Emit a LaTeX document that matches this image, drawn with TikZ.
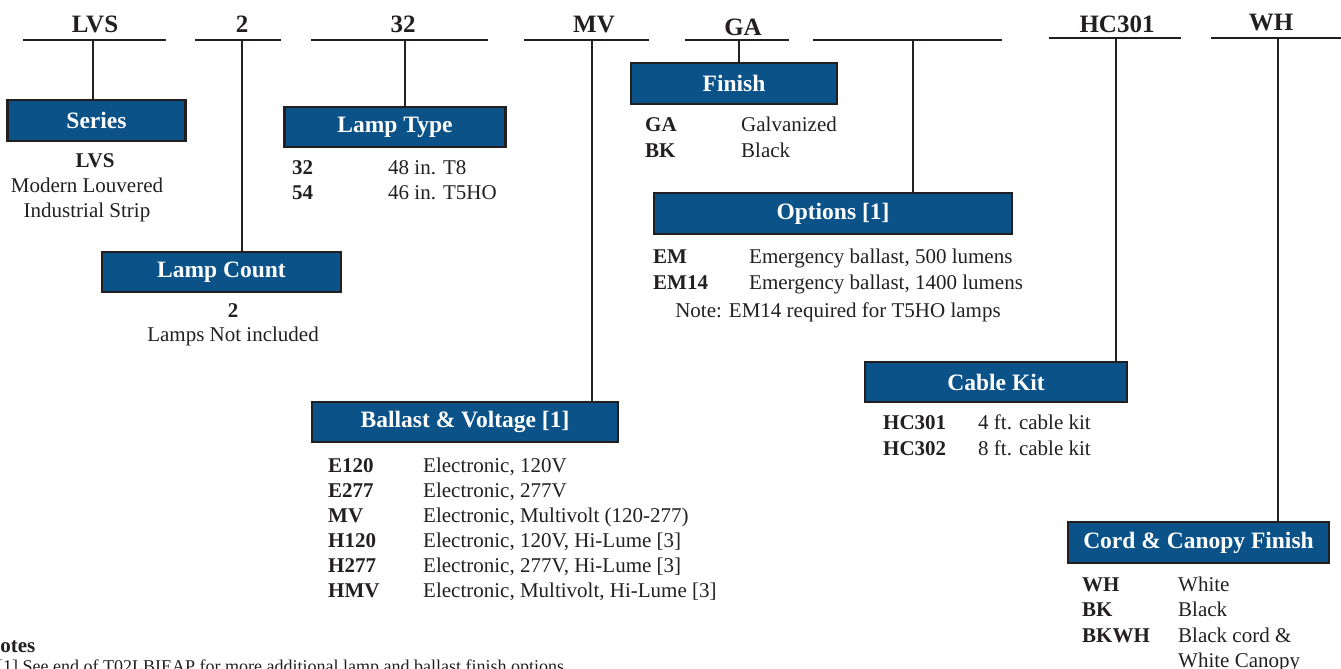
\documentclass[tikz,border=0pt]{standalone}
\usepackage{fontspec}
\setmainfont{Liberation Serif}
\definecolor{ink}{RGB}{35,31,32}
\definecolor{boxblue}{RGB}{10,82,136}
\begin{document}
\begin{tikzpicture}[x=1pt,y=-1pt,
  hdr/.style={font=\fontsize{25}{25}\selectfont\bfseries,text=ink,anchor=base,inner sep=0pt},
  hline/.style={draw=ink,line width=2.6pt},
  conn/.style={draw=ink,line width=2.4pt},
  titlebox/.style={draw=ink,line width=2.2pt,fill=boxblue,text=white,
     font=\fontsize{23.5}{23.5}\selectfont\bfseries,inner sep=0pt,anchor=center},
  code/.style={font=\fontsize{21}{21}\selectfont\bfseries,text=ink,anchor=base west,inner sep=0pt},
  desc/.style={font=\fontsize{21}{21}\selectfont,text=ink,anchor=base west,inner sep=0pt},
  ctrb/.style={font=\fontsize{21}{21}\selectfont\bfseries,text=ink,anchor=base,inner sep=0pt},
  ctr/.style={font=\fontsize{21}{21}\selectfont,text=ink,anchor=base,inner sep=0pt}]
\useasboundingbox (0,0) rectangle (1341,669);

% header codes
\node[hdr] (hLVS) at (95,33) {LVS};
\node[hdr] (h2) at (242,33) {2};
\node[hdr] (h32) at (403,33) {32};
\node[hdr] (hMV) at (594,33) {MV};
\node[hdr] (hGA) at (743,36) {GA};
\node[hdr] (hHC) at (1117,33) {HC301};
\node[hdr] (hWH) at (1271,31) {WH};

% header lines
\coordinate (a1) at (23,40);   \coordinate (b1) at (166,40);
\coordinate (a2) at (195,40);  \coordinate (b2) at (281,40);
\coordinate (a3) at (311,40);  \coordinate (b3) at (488,40);
\coordinate (a4) at (524,40);  \coordinate (b4) at (649,40);
\coordinate (a5) at (685,40);  \coordinate (b5) at (789,40);
\coordinate (a6) at (813,40);  \coordinate (b6) at (1002,40);
\coordinate (a7) at (1049,38); \coordinate (b7) at (1181,38);
\coordinate (a8) at (1211,38); \coordinate (b8) at (1345,38);
\foreach \i in {1,...,8} {\draw[hline] (a\i) -- (b\i);}

% title boxes
\node[titlebox,minimum width=178pt,minimum height=41pt] (series) at (96.5,120.5) {Series};
\node[titlebox,minimum width=221pt,minimum height=40pt] (lamptype) at (395,127) {Lamp Type};
\node[titlebox,minimum width=239pt,minimum height=40pt] (lampcount) at (221.5,272) {Lamp Count};
\node[titlebox,minimum width=206pt,minimum height=41pt] (finish) at (734,83.5) {Finish};
\node[titlebox,minimum width=358pt,minimum height=41pt] (options) at (833,213.5) {Options [1]};
\node[titlebox,minimum width=306pt,minimum height=40pt] (ballast) at (465,422) {Ballast \& Voltage [1]};
\node[titlebox,minimum width=262pt,minimum height=40pt] (cable) at (996,382) {Cable Kit};
\node[titlebox,minimum width=261pt,minimum height=41pt] (cord) at (1198.5,542.5) {Cord \& Canopy Finish};

% connectors
\coordinate (v1) at (93,40);
\coordinate (v2) at (242,40);
\coordinate (v3) at (405,40);
\coordinate (v4) at (592,40);
\coordinate (v5) at (739,40);
\coordinate (v6) at (913,40);
\coordinate (v7) at (1116,38);
\coordinate (v8) at (1278,38);
\draw[conn] (v1) -- (v1 |- series.north);
\draw[conn] (v2) -- (v2 |- lampcount.north);
\draw[conn] (v3) -- (v3 |- lamptype.north);
\draw[conn] (v4) -- (v4 |- ballast.north);
\draw[conn] (v5) -- (v5 |- finish.north);
\draw[conn] (v6) -- (v6 |- options.north);
\draw[conn] (v7) -- (v7 |- cable.north);
\draw[conn] (v8) -- (v8 |- cord.north);

% Series
\node[ctrb] (s1) at (95,167) {LVS};
\node[ctr] (s2) at (87,192) {Modern Louvered};
\node[ctr] (s3) at (87,217) {Industrial Strip};

% Lamp type
\node[code] (lt1) at (292,174) {32};
\node[desc] (lt1d) at (388,174) {48 in. T8};
\node[code] (lt2) at (292,199) {54};
\node[desc] (lt2d) at (388,199) {46 in. T5HO};

% Lamp count
\node[ctrb] (lc1) at (233,317) {2};
\node[ctr] (lc2) at (233,341) {Lamps Not included};

% Finish
\node[code] (f1) at (645,131) {GA};
\node[desc] (f1d) at (741,131) {Galvanized};
\node[code] (f2) at (645,157) {BK};
\node[desc] (f2d) at (741,157) {Black};

% Options
\node[code] (o1) at (653,263) {EM};
\node[desc] (o1d) at (749,263) {Emergency ballast, 500 lumens};
\node[code] (o2) at (653,289) {EM14};
\node[desc] (o2d) at (749,289) {Emergency ballast, 1400 lumens};
\node[ctr] (o3) at (838,317) {Note: EM14 required for T5HO lamps};

% Ballast
\node[code] (b1c) at (328,472) {E120};
\node[desc] (b1d) at (423,472) {Electronic, 120V};
\node[code] (b2c) at (328,497) {E277};
\node[desc] (b2d) at (423,497) {Electronic, 277V};
\node[code] (b3c) at (328,522) {MV};
\node[desc] (b3d) at (423,522) {Electronic, Multivolt (120-277)};
\node[code] (b4c) at (328,547) {H120};
\node[desc] (b4d) at (423,547) {Electronic, 120V, Hi-Lume [3]};
\node[code] (b5c) at (328,572) {H277};
\node[desc] (b5d) at (423,572) {Electronic, 277V, Hi-Lume [3]};
\node[code] (b6c) at (328,597) {HMV};
\node[desc] (b6d) at (423,597) {Electronic, Multivolt, Hi-Lume [3]};

% Cable kit
\node[code] (c1) at (883,429) {HC301};
\node[desc] (c1d) at (978,429) {4 ft. cable kit};
\node[code] (c2) at (883,455) {HC302};
\node[desc] (c2d) at (978,455) {8 ft. cable kit};

% Cord & canopy
\node[code] (w1) at (1082,591) {WH};
\node[desc] (w1d) at (1178,591) {White};
\node[code] (w2) at (1082,616) {BK};
\node[desc] (w2d) at (1178,616) {Black};
\node[code] (w3) at (1082,642) {BKWH};
\node[desc] (w3d) at (1178,642) {Black cord \&};
\node[desc] (w4d) at (1178,667) {White Canopy};

% Notes
\node[code] (notes) at (-15,652) {Notes};
\node[desc,font=\fontsize{18}{18}\selectfont] (note1) at (-3,672) {[1] See end of T02LBIEAP for more additional lamp and ballast finish options};
\end{tikzpicture}
\end{document}
